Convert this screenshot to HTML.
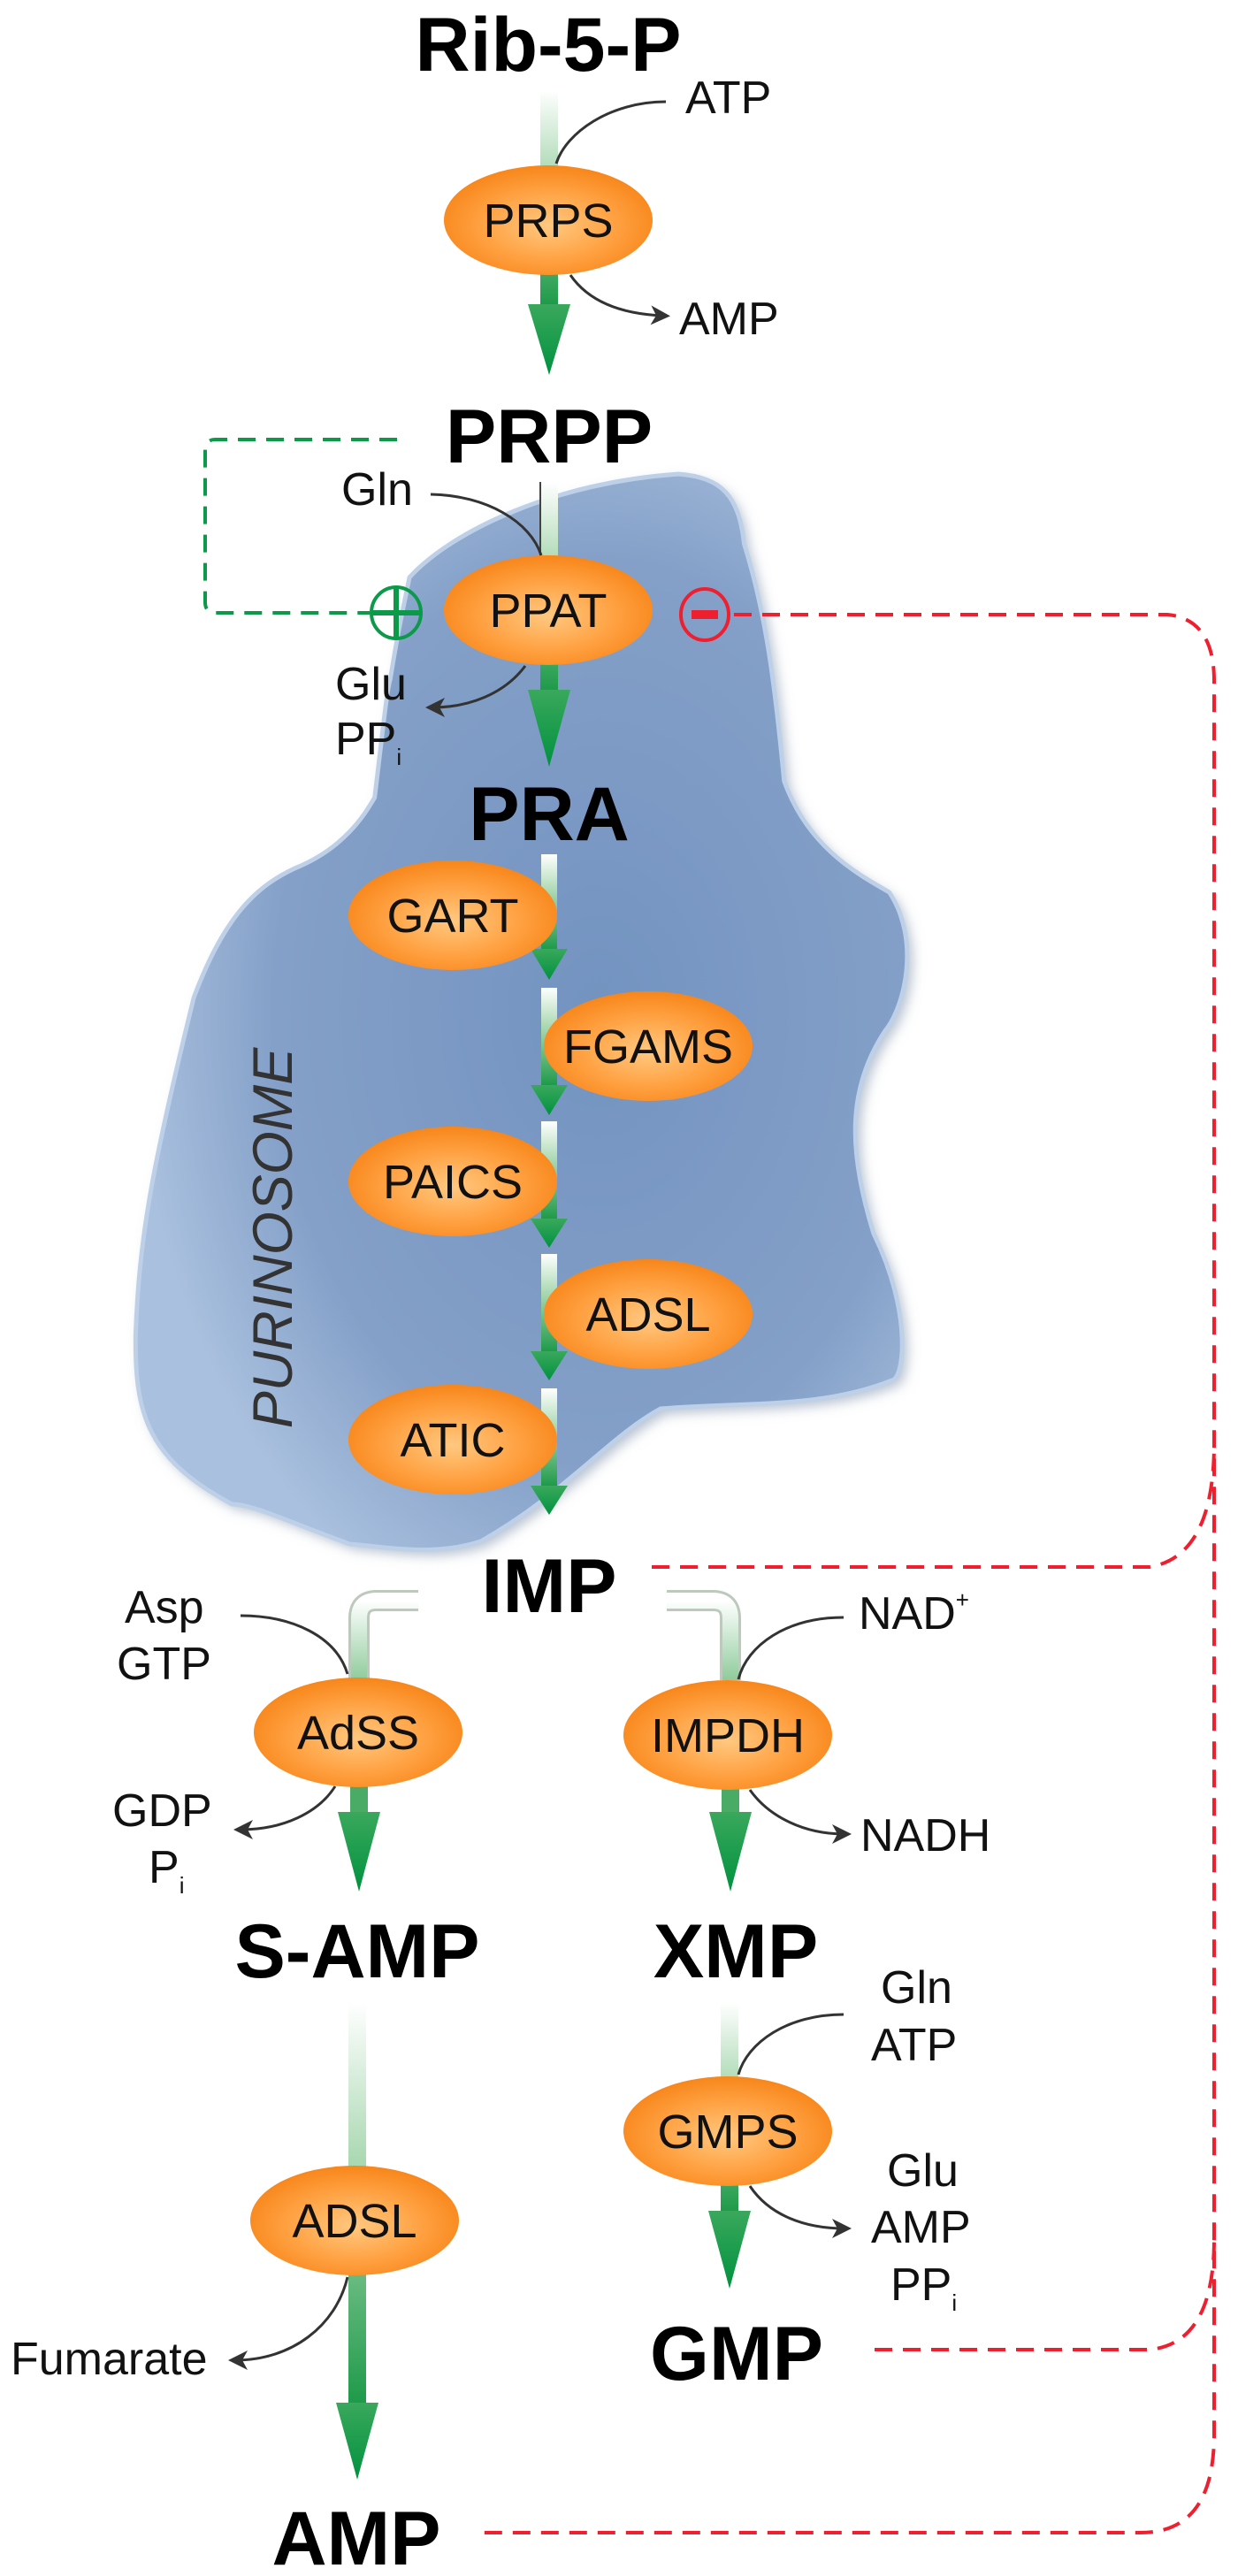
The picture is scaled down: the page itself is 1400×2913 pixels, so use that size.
<!DOCTYPE html>
<html><head><meta charset="utf-8"><style>
html,body{margin:0;padding:0;background:#fff;}
svg{display:block;}
text{font-family:"Liberation Sans",Arial,sans-serif;}
</style></head><body>
<svg width="1400" height="2913" viewBox="0 0 1400 2913" xmlns="http://www.w3.org/2000/svg">
<defs>
<radialGradient id="og" cx="50%" cy="55%" r="55%">
<stop offset="0" stop-color="#ffc880"/><stop offset="0.6" stop-color="#ffa040"/><stop offset="1" stop-color="#f7861a"/>
</radialGradient>
<radialGradient id="bg" cx="60%" cy="50%" r="60%">
<stop offset="0" stop-color="#7393c0"/><stop offset="0.7" stop-color="#84a0c8"/><stop offset="1" stop-color="#a9c0de"/>
</radialGradient>
<linearGradient id="bar" x1="0" y1="0" x2="0" y2="1">
<stop offset="0" stop-color="#ffffff"/><stop offset="0.45" stop-color="#9fd3a8"/><stop offset="1" stop-color="#1f9a4a"/>
</linearGradient>
<linearGradient id="hd" x1="0" y1="0" x2="0" y2="1">
<stop offset="0" stop-color="#3aa85c"/><stop offset="1" stop-color="#00923f"/>
</linearGradient>
<linearGradient id="tube" x1="0" y1="0" x2="0" y2="1">
<stop offset="0" stop-color="#ffffff"/><stop offset="1" stop-color="#8fcb9b"/>
</linearGradient>
<filter id="blur" x="-10%" y="-10%" width="120%" height="120%"><feGaussianBlur stdDeviation="7"/></filter>
<marker id="ah" markerWidth="22" markerHeight="22" refX="14" refY="11" orient="auto" markerUnits="userSpaceOnUse">
<path d="M0,0 L22,11 L0,22 L6,11 Z" fill="#333"/></marker>
<path id="blob" d="M781,536 C830,540 850,560 856,615 C880,690 891,768 902,883 C930,960 990,990 1023,1009 C1060,1064 1040,1140 1018,1166 C975,1230 975,1300 1005,1395 C1050,1485 1040,1560 1026,1561 C945,1593 860,1585 760,1593 C700,1625 650,1689 553,1743 C500,1760 450,1750 402,1746 C330,1720 290,1701 267,1701 C170,1650 155,1600 156,1510 C160,1400 175,1319 223,1128 C260,1030 300,1000 339,982 C397,959 420,920 431,902 C440,830 445,780 449,768 C460,700 470,660 471,653 C520,600 640,545 781,536 Z"/>
</defs>

<!-- purinosome blob -->
<g transform="scale(0.983 1)">
<use href="#blob" filter="url(#blur)" fill="#b4bfcf" transform="translate(6,6)"/>
<use href="#blob" fill="url(#bg)" stroke="#bdd0e8" stroke-width="5"/>
</g>
<text transform="translate(330,1400) rotate(-90)" text-anchor="middle" font-size="63" font-style="italic" fill="#333">PURINOSOME</text>

<!-- dashed feedback lines -->
<path d="M449,497 L244,497 Q232,497 232,509 L232,681 Q232,693 244,693 L418,693" fill="none" stroke="#0c9a4a" stroke-width="4" stroke-dasharray="20,12"/>
<ellipse cx="448" cy="693" rx="28" ry="29" fill="none" stroke="#0c9a4a" stroke-width="4"/>
<path d="M448,666 V720 M421,693 H475" stroke="#0c9a4a" stroke-width="6"/>
<ellipse cx="797" cy="695" rx="27" ry="29" fill="none" stroke="#ee2030" stroke-width="4"/>
<rect x="782" y="690" width="30" height="10" fill="#ee2030"/>
<g fill="none" stroke="#ee2030" stroke-width="4" stroke-dasharray="20,12">
<path d="M830,695 L1320,695 Q1373,700 1373,770 L1373,2753 Q1373,2864 1290,2864 L536,2864"/>
<path d="M737,1772 L1300,1772 Q1373,1760 1373,1632"/>
<path d="M989,2657 L1300,2657 Q1373,2650 1373,2532"/>
</g>

<!-- tubes for IMP branches -->
<path d="M473,1810 L426,1810 Q406,1810 406,1830 L406,1900" fill="none" stroke="#bcc9bc" stroke-width="24"/>
<path d="M473,1810 L426,1810 Q406,1810 406,1830 L406,1900" fill="none" stroke="url(#tube)" stroke-width="18"/>
<path d="M754,1810 L806,1810 Q826,1810 826,1830 L826,1900" fill="none" stroke="#bcc9bc" stroke-width="24"/>
<path d="M754,1810 L806,1810 Q826,1810 826,1830 L826,1900" fill="none" stroke="url(#tube)" stroke-width="18"/>

<!-- arrows: bar + head -->
<g>
<rect x="611" y="102" width="20" height="242" fill="url(#bar)"/>
<polygon points="597,344 645,344 621,424" fill="url(#hd)"/>
<rect x="611" y="545" width="20" height="235" fill="url(#bar)"/>
<line x1="611" y1="545" x2="611" y2="640" stroke="#444" stroke-width="2"/>
<polygon points="597,780 645,780 621,867" fill="url(#hd)"/>
<rect x="612" y="966" width="18" height="107" fill="url(#bar)"/>
<polygon points="600,1073 642,1073 621,1108" fill="url(#hd)"/>
<rect x="612" y="1117" width="18" height="110" fill="url(#bar)"/>
<polygon points="600,1227 642,1227 621,1261" fill="url(#hd)"/>
<rect x="612" y="1268" width="18" height="110" fill="url(#bar)"/>
<polygon points="600,1378 642,1378 621,1411" fill="url(#hd)"/>
<rect x="612" y="1418" width="18" height="110" fill="url(#bar)"/>
<polygon points="600,1528 642,1528 621,1561" fill="url(#hd)"/>
<rect x="612" y="1570" width="18" height="110" fill="url(#bar)"/>
<polygon points="600,1680 642,1680 621,1713" fill="url(#hd)"/>
<rect x="396" y="1960" width="20" height="90" fill="#4aab66"/>
<polygon points="382,2049 430,2049 406,2139" fill="url(#hd)"/>
<rect x="816" y="1960" width="20" height="90" fill="#4aab66"/>
<polygon points="802,2049 850,2049 826,2139" fill="url(#hd)"/>
<rect x="394" y="2265" width="20" height="452" fill="url(#bar)"/>
<polygon points="380,2717 428,2717 404,2804" fill="url(#hd)"/>
<rect x="815" y="2265" width="20" height="235" fill="url(#bar)"/>
<polygon points="801,2500 849,2500 825,2588" fill="url(#hd)"/>
</g>

<!-- side curves -->
<g fill="none" stroke="#333" stroke-width="3">
<path d="M753,115 C690,115 640,150 629,185"/>
<path d="M645,311 C665,340 700,355 750,357" marker-end="url(#ah)"/>
<path d="M487,559 C550,560 600,590 612,628"/>
<path d="M594,753 C570,785 530,800 489,800" marker-end="url(#ah)"/>
<path d="M272,1827 C330,1827 380,1850 393,1893"/>
<path d="M954,1829 C890,1829 845,1860 835,1899"/>
<path d="M379,2020 C360,2050 320,2069 272,2069" marker-end="url(#ah)"/>
<path d="M848,2024 C870,2055 910,2074 955,2074" marker-end="url(#ah)"/>
<path d="M954,2278 C890,2278 845,2310 835,2346"/>
<path d="M848,2472 C870,2505 910,2520 955,2520" marker-end="url(#ah)"/>
<path d="M393,2575 C380,2630 330,2669 266,2669" marker-end="url(#ah)"/>
</g>

<!-- enzymes -->
<g fill="url(#og)">
<ellipse cx="620" cy="249" rx="118" ry="62"/>
<ellipse cx="620" cy="690" rx="118" ry="62"/>
<ellipse cx="512" cy="1035" rx="118" ry="62"/>
<ellipse cx="733" cy="1183" rx="118" ry="62"/>
<ellipse cx="512" cy="1336" rx="118" ry="62"/>
<ellipse cx="733" cy="1486" rx="118" ry="62"/>
<ellipse cx="512" cy="1628" rx="118" ry="62"/>
<ellipse cx="405" cy="1959" rx="118" ry="62"/>
<ellipse cx="823" cy="1962" rx="118" ry="62"/>
<ellipse cx="401" cy="2511" rx="118" ry="62"/>
<ellipse cx="823" cy="2410" rx="118" ry="62"/>
</g>
<g font-size="54" text-anchor="middle" fill="#111">
<text x="620" y="268">PRPS</text>
<text x="620" y="709">PPAT</text>
<text x="512" y="1054">GART</text>
<text x="733" y="1202">FGAMS</text>
<text x="512" y="1355">PAICS</text>
<text x="733" y="1505">ADSL</text>
<text x="512" y="1647">ATIC</text>
<text x="405" y="1978">AdSS</text>
<text x="823" y="1981">IMPDH</text>
<text x="401" y="2530">ADSL</text>
<text x="823" y="2429">GMPS</text>
</g>

<!-- metabolites -->
<g font-size="86" font-weight="bold" text-anchor="middle" fill="#000">
<text x="620" y="80">Rib-5-P</text>
<text x="621" y="523">PRPP</text>
<text x="621" y="950">PRA</text>
<text x="621" y="1823">IMP</text>
<text x="404" y="2236">S-AMP</text>
<text x="832" y="2236">XMP</text>
<text x="833" y="2691">GMP</text>
<text x="403" y="2900">AMP</text>
</g>

<!-- cofactors -->
<g font-size="52" fill="#111">
<text x="775" y="128">ATP</text>
<text x="768" y="378">AMP</text>
<text x="386" y="571">Gln</text>
<text x="379" y="791">Glu</text>
<text x="379" y="853">PP<tspan font-size="26" dy="12">i</tspan></text>
<text x="141" y="1835">Asp</text>
<text x="132" y="1899">GTP</text>
<text x="971" y="1842">NAD<tspan font-size="26" dy="-24">+</tspan></text>
<text x="127" y="2065">GDP</text>
<text x="168" y="2129">P<tspan font-size="26" dy="12">i</tspan></text>
<text x="973" y="2093">NADH</text>
<text x="996" y="2265">Gln</text>
<text x="985" y="2330">ATP</text>
<text x="1003" y="2472">Glu</text>
<text x="985" y="2536">AMP</text>
<text x="1007" y="2601">PP<tspan font-size="26" dy="12">i</tspan></text>
<text x="12" y="2685">Fumarate</text>
</g>
</svg>
</body></html>
